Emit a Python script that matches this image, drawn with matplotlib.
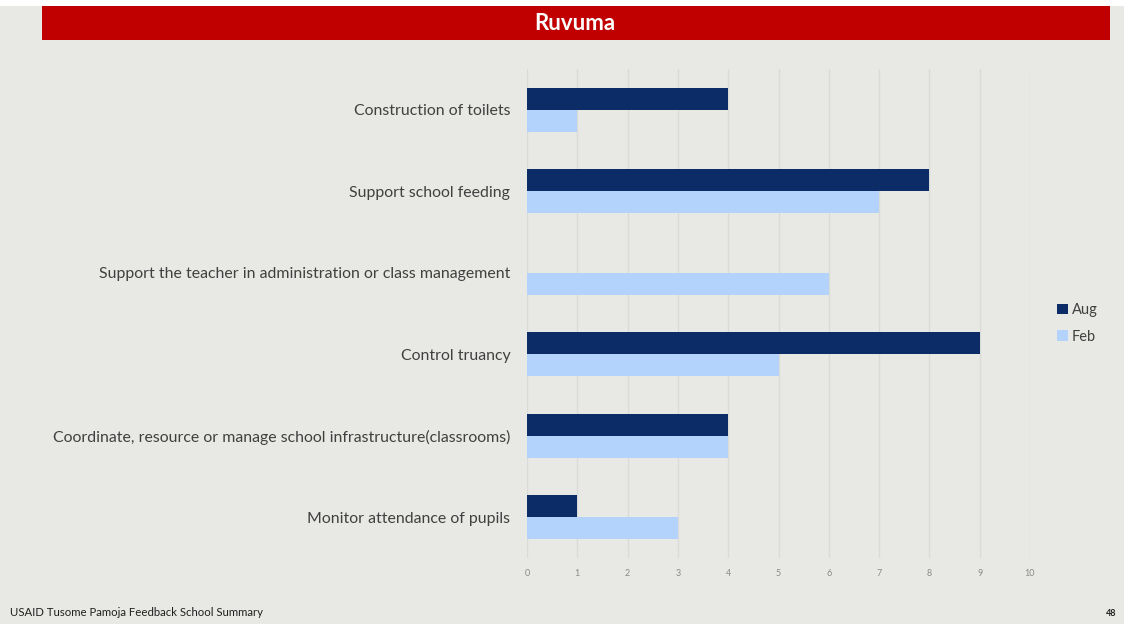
import matplotlib.pyplot as plt
from matplotlib.patches import Rectangle

categories = [
    "Construction of toilets",
    "Support school feeding",
    "Support the teacher in administration or class management",
    "Control truancy",
    "Coordinate, resource or manage school infrastructure(classrooms)",
    "Monitor attendance of pupils",
]
aug = [4, 8, 0, 9, 4, 1]
feb = [1, 7, 6, 5, 4, 3]
xticks = list(range(0, 11))

title = "Ruvuma"
footer = "USAID Tusome Pamoja Feedback School Summary"
page = "48"

bg = "#e8e8e5"
aug_color = "#0c2c68"
feb_color = "#b3d2fc"
banner_color = "#c00000"

plt.rcParams["font.family"] = ["Lato", "DejaVu Sans"]

fig = plt.figure(figsize=(11.24, 6.24), dpi=100)
fig.patch.set_facecolor(bg)

# white strip at the very top and the red title banner
fig.add_artist(Rectangle((0, 1 - 6 / 624), 1, 6 / 624, transform=fig.transFigure,
                         facecolor="white", edgecolor="none"))
fig.add_artist(Rectangle((42 / 1124, 1 - 40 / 624), (1110 - 42) / 1124, 34 / 624,
                         transform=fig.transFigure, facecolor=banner_color,
                         edgecolor="none"))
fig.text(575 / 1124, 1 - 23 / 624, title, color="white", fontsize=16,
         fontweight="bold", ha="center", va="center")

ax = fig.add_axes([527 / 1124, 1 - 558 / 624, (1030 - 527) / 1124, (558 - 69) / 624])
ax.set_facecolor(bg)

n = len(categories)
pos = list(range(n))
h = 0.27
ax.barh([p - h / 2 for p in pos], aug, height=h, color=aug_color, label="Aug", zorder=3)
ax.barh([p + h / 2 for p in pos], feb, height=h, color=feb_color, label="Feb", zorder=3)

ax.set_ylim(n - 0.5, -0.5)
ax.set_xlim(0, 10)
ax.set_yticks(pos)
ax.set_yticklabels(categories, fontsize=11.4, color="#404040")
ax.set_xticks(xticks)
ax.set_xticklabels([str(t) for t in xticks], fontsize=6.5, color="#8a8a8a")
ax.tick_params(axis="both", length=0)
ax.tick_params(axis="y", pad=12)
ax.tick_params(axis="x", pad=8)
ax.grid(axis="x", color="#dadad8", linewidth=1, zorder=0)
ax.grid(axis="y", visible=False)
for s in ax.spines.values():
    s.set_visible(False)

leg = fig.legend(loc="upper left", bbox_to_anchor=(1050 / 1124, 1 - 296 / 624),
                 frameon=False, fontsize=10.5, handlelength=0.7, handleheight=0.7,
                 handletextpad=0.3, labelspacing=0.85, borderpad=0)
for t in leg.get_texts():
    t.set_color("#404040")

fig.text(10 / 1124, 1 - 612 / 624, footer, fontsize=8.2, color="#202020",
         ha="left", va="center")
fig.text(1116 / 1124, 1 - 613 / 624, page, fontsize=6.5, color="#202020",
         fontweight="bold", ha="right", va="center")

fig.savefig("out.png", dpi=100, facecolor=bg)
